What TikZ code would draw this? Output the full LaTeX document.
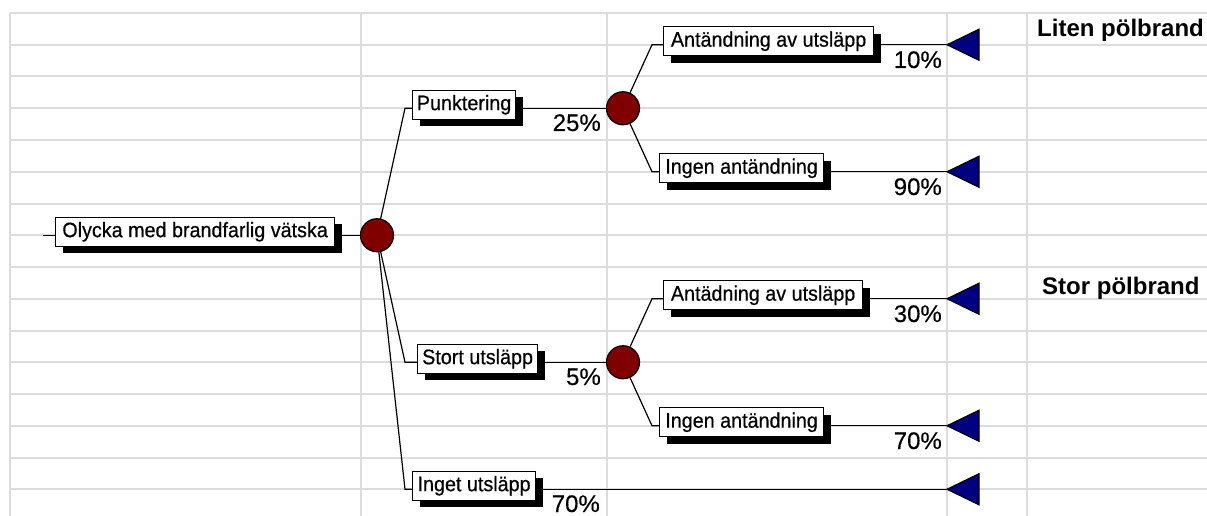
\documentclass[tikz,border=0pt]{standalone}
\usepackage{fontspec}
\setmainfont{Liberation Sans}
\newfontfamily\boxfont[FakeStretch=0.94,FakeBold=0.5]{Liberation Sans}
\newfontfamily\pctfont[FakeBold=0.3]{Liberation Sans}
\usetikzlibrary{shadows}
\pgfdeclarelayer{grid}
\pgfdeclarelayer{conn}
\pgfsetlayers{grid,conn,main}
\definecolor{gridgray}{HTML}{DCDCDC}
\definecolor{chancered}{HTML}{800000}
\definecolor{endblue}{HTML}{000080}
\tikzset{
  evbox/.style={draw=black, line width=1.2pt, fill=white, anchor=west,
    minimum height=29pt, inner xsep=2pt, inner ysep=0pt,
    font=\boxfont\fontsize{21}{22}\selectfont,
    general shadow={fill=black, shadow xshift=7pt, shadow yshift=-7pt}},
  chance/.style={circle, draw=black, line width=1.2pt, fill=chancered,
    minimum size=33pt, inner sep=0pt},
  endtri/.style={draw=black, line width=1.2pt, fill=endblue, line join=miter},
  conn/.style={draw=black, line width=1.2pt},
  pct/.style={anchor=base east, inner sep=0pt, font=\pctfont\fontsize{24}{26}\selectfont},
  outc/.style={anchor=base west, inner sep=0pt, font=\bfseries\fontsize{24}{26}\selectfont},
  gridline/.style={draw=gridgray, line width=2pt}
}
\begin{document}
\begin{tikzpicture}[x=1pt,y=-1pt]
\useasboundingbox (0,0) rectangle (1207,516);
% grid
\begin{pgfonlayer}{grid}
\fill[white] (0,0) rectangle (1207,516);
\foreach \k in {0,...,15} {
  \draw[gridline] (10,{13+31.75*\k}) -- (1207,{13+31.75*\k});
}
\foreach \x in {10,361,607,947,1027} {
  \draw[gridline] (\x,13) -- (\x,516);
}
\end{pgfonlayer}

% row y-values
\def\ya{44.75}
\def\yb{108.25}
\def\yc{171.75}
\def\yd{235.25}
\def\ye{298.75}
\def\yf{362.25}
\def\yg{425.75}
\def\yh{489.25}

% nodes
\node[evbox, minimum width=279pt] (root) at (55,\yd-3.5) {Olycka med brandfarlig vätska};
\coordinate (entry) at (43,\yd);
\node[chance] (c0) at (377,\yd) {};

\node[evbox, minimum width=103pt] (punk) at (412,\yb-3.5) {Punktering};
\node[evbox, minimum width=120pt] (stort) at (417,\yf-3.5) {Stort utsläpp};
\node[evbox, minimum width=123pt] (inget) at (412,\yh-3.5) {Inget utsläpp};
\coordinate (kp) at (405,\yb);
\coordinate (ks) at (405,\yf);
\coordinate (ki) at (405,\yh);

\node[chance] (c1) at (623,\yb) {};
\node[chance] (c2) at (623,\yf) {};

\node[evbox, minimum width=210pt] (a1) at (663,\ya-3.5) {Antändning av utsläpp};
\node[evbox, minimum width=164pt] (i1) at (659,\yc-3.5) {Ingen antändning};
\node[evbox, minimum width=199pt] (a2) at (663,\ye-3.5) {Antädning av utsläpp};
\node[evbox, minimum width=164pt] (i2) at (659,\yg-3.5) {Ingen antändning};
\coordinate (ka1) at (652,\ya);
\coordinate (ki1) at (652,\yc);
\coordinate (ka2) at (652,\ye);
\coordinate (ki2) at (652,\yg);

\coordinate (t1) at (947,\ya);
\coordinate (t2) at (947,\yc);
\coordinate (t3) at (947,\ye);
\coordinate (t4) at (947,\yg);
\coordinate (t5) at (947,\yh);

% connectors
\begin{pgfonlayer}{conn}
\draw[conn] (entry) -- (entry -| root.west);
\draw[conn] (root.east |- c0) -- (c0.center);
\draw[conn] (c0.center) -- (kp) -- (kp -| punk.west);
\draw[conn] (c0.center) -- (ks) -- (ks -| stort.west);
\draw[conn] (c0.center) -- (ki) -- (ki -| inget.west);
\draw[conn] (punk.east |- c1) -- (c1.center);
\draw[conn] (stort.east |- c2) -- (c2.center);
\draw[conn] (inget.east |- t5) -- (t5);
\draw[conn] (c1.center) -- (ka1) -- (ka1 -| a1.west);
\draw[conn] (c1.center) -- (ki1) -- (ki1 -| i1.west);
\draw[conn] (c2.center) -- (ka2) -- (ka2 -| a2.west);
\draw[conn] (c2.center) -- (ki2) -- (ki2 -| i2.west);
\draw[conn] (a1.east |- t1) -- (t1);
\draw[conn] (i1.east |- t2) -- (t2);
\draw[conn] (a2.east |- t3) -- (t3);
\draw[conn] (i2.east |- t4) -- (t4);
\end{pgfonlayer}

% end triangles
\foreach \t in {t1,t2,t3,t4,t5} {
  \draw[endtri] (\t) -- ++(32,-15.5) -- ++(0,31) -- cycle;
}

% percentages
\node[pct] (p25) at (601,131) {25\%};
\node[pct] (p5) at (601,385) {5\%};
\node[pct] (p70b) at (600,512) {70\%};
\node[pct] (p10) at (942,68) {10\%};
\node[pct] (p90) at (942,195) {90\%};
\node[pct] (p30) at (942,322) {30\%};
\node[pct] (p70) at (942,449) {70\%};

% outcome labels
\node[outc] (liten) at (1037,37) {Liten pölbrand};
\node[outc] (stor) at (1042,294) {Stor pölbrand};
\end{tikzpicture}
\end{document}
